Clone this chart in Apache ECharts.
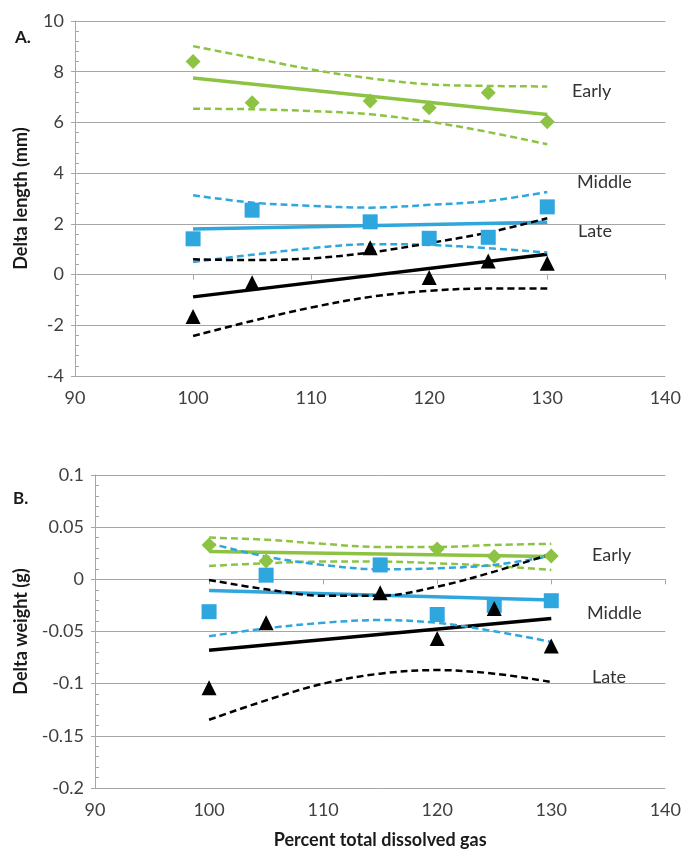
<!DOCTYPE html>
<html>
<head>
<meta charset="utf-8">
<script src="https://cdn.jsdelivr.net/npm/echarts@6/dist/echarts.min.js"></script>
<style>
html,body{margin:0;padding:0;background:#fff;}
#chart{width:684px;height:852px;}
</style>
</head>
<body>
<div id="chart"></div>
<script>
// ---------- DATA ----------
const xTicks = [90, 100, 110, 120, 130, 140];
const obsX = [100, 105, 115, 120, 125, 130];
const ciX = [100, 105, 110, 115, 120, 125, 130];
const fitX = [100, 130];
const groupNames = ['Early', 'Middle', 'Late'];

// Panel A: Delta length (mm)
const lenEarly = [8.4, 6.78, 6.85, 6.58, 7.17, 6.03];
const lenEarlyFit = [7.75, 6.31];
const lenEarlyUpper = [9.01, 8.55, 8.09, 7.74, 7.5, 7.44, 7.42];
const lenEarlyLower = [6.54, 6.52, 6.45, 6.32, 6.03, 5.62, 5.14];

const lenMiddle = [1.41, 2.54, 2.08, 1.43, 1.47, 2.67];
const lenMiddleFit = [1.8, 2.06];
const lenMiddleUpper = [3.13, 2.84, 2.71, 2.64, 2.75, 2.9, 3.26];
const lenMiddleLower = [0.5, 0.78, 1.04, 1.2, 1.17, 1.04, 0.87];

const lenLate = [-1.65, -0.32, 1.06, -0.12, 0.54, 0.45];
const lenLateFit = [-0.88, 0.8];
const lenLateUpper = [0.6, 0.57, 0.64, 0.87, 1.24, 1.66, 2.22];
const lenLateLower = [-2.42, -1.83, -1.3, -0.88, -0.64, -0.55, -0.55];

// Panel B: Delta weight (g)
const wtEarly = [0.033, 0.0176, 0.014, 0.029, 0.0218, 0.0224];
const wtEarlyFit = [0.0266, 0.0218];
const wtEarlyUpper = [0.040, 0.038, 0.034, 0.031, 0.031, 0.033, 0.034];
const wtEarlyLower = [0.0128, 0.0154, 0.017, 0.017, 0.0154, 0.0128, 0.009];

const wtMiddle = [-0.031, 0.004, 0.0138, -0.0337, -0.025, -0.0205];
const wtMiddleFit = [-0.0106, -0.0199];
const wtMiddleUpper = [0.0346, 0.0218, 0.0138, 0.0096, 0.0106, 0.0138, 0.0224];
const wtMiddleLower = [-0.0545, -0.047, -0.0417, -0.039, -0.0417, -0.0497, -0.06];

const wtLate = [-0.104, -0.0417, -0.0128, -0.0567, -0.0279, -0.064];
const wtLateFit = [-0.068, -0.0375];
const wtLateUpper = [-0.0006, -0.0096, -0.0157, -0.0157, -0.007, 0.0074, 0.0244];
const wtLateLower = [-0.1346, -0.116, -0.1, -0.0904, -0.087, -0.0904, -0.0984];

// ---------- STYLE ----------
const GREEN = '#8dc343';
const BLUE = '#2ea6de';
const BLACK = '#000000';
const FONT = 'Lato, "Open Sans", sans-serif';
const GRID_COLOR = '#a6a6a6';

function zip(xs, ys) { return xs.map((x, i) => [x, ys[i]]); }

function scatter(data, sym, color, idx) {
  return {
    type: 'scatter', xAxisIndex: idx, yAxisIndex: idx * 2,
    data: zip(obsX, data), symbol: sym, symbolSize: 15,
    itemStyle: { color: color, opacity: 1 }, z: 5, silent: true
  };
}
function fit(data, color, idx) {
  return {
    type: 'line', xAxisIndex: idx, yAxisIndex: idx * 2,
    data: zip(fitX, data), symbol: 'none',
    lineStyle: { color: color, width: 3.5 }, z: 3, silent: true
  };
}
function ci(data, color, idx) {
  return {
    type: 'line', xAxisIndex: idx, yAxisIndex: idx * 2,
    data: zip(ciX, data), symbol: 'none', smooth: 0.35,
    lineStyle: { color: color, width: 2.5, type: [7, 4] }, z: 4, silent: true
  };
}

function xAxis(idx, name) {
  return {
    type: 'value', gridIndex: idx, min: 90, max: 140, interval: 10,
    axisLine: { show: true, lineStyle: { color: GRID_COLOR, width: 1 } },
    axisTick: { show: true, length: 5, lineStyle: { color: GRID_COLOR } },
    axisLabel: { color: '#404040', fontFamily: FONT, fontSize: 18, margin: 13 },
    splitLine: { show: false },
    name: name, nameLocation: 'middle', nameGap: 43,
    nameTextStyle: { color: '#1a1a1a', fontFamily: FONT, fontSize: 18, fontWeight: 'bold' }
  };
}
function yAxes(idx, min, max, interval, name, gap) {
  return [{
    type: 'value', gridIndex: idx, min: min, max: max, interval: interval,
    axisLine: { show: true, lineStyle: { color: GRID_COLOR, width: 1 } },
    axisTick: { show: true, length: 4, lineStyle: { color: GRID_COLOR } },
    axisLabel: { color: '#404040', fontFamily: FONT, fontSize: 18, margin: 11 },
    splitLine: { show: true, lineStyle: { color: GRID_COLOR, width: 1 } },
    name: name, nameLocation: 'middle', nameGap: gap, nameRotate: 90,
    nameTextStyle: { color: '#1a1a1a', fontFamily: FONT, fontSize: 18, fontWeight: 'bold' }
  }, {
    type: 'value', gridIndex: idx, min: min, max: max, interval: interval, position: 'left',
    axisLine: { show: false }, axisLabel: { show: false }, splitLine: { show: false },
    axisTick: { show: false, inside: true },
    minorTick: { show: true, splitNumber: 5, length: 4, lineStyle: { color: GRID_COLOR } }
  }];
}

const series = [
  scatter(lenEarly, 'diamond', GREEN, 0), scatter(lenMiddle, 'rect', BLUE, 0), scatter(lenLate, 'triangle', BLACK, 0),
  fit(lenEarlyFit, GREEN, 0), ci(lenEarlyUpper, GREEN, 0), ci(lenEarlyLower, GREEN, 0),
  fit(lenMiddleFit, BLUE, 0), ci(lenMiddleUpper, BLUE, 0), ci(lenMiddleLower, BLUE, 0),
  fit(lenLateFit, BLACK, 0), ci(lenLateUpper, BLACK, 0), ci(lenLateLower, BLACK, 0),
  scatter(wtEarly, 'diamond', GREEN, 1), scatter(wtMiddle, 'rect', BLUE, 1), scatter(wtLate, 'triangle', BLACK, 1),
  fit(wtEarlyFit, GREEN, 1), ci(wtEarlyUpper, GREEN, 1), ci(wtEarlyLower, GREEN, 1),
  fit(wtMiddleFit, BLUE, 1), ci(wtMiddleUpper, BLUE, 1), ci(wtMiddleLower, BLUE, 1),
  fit(wtLateFit, BLACK, 1), ci(wtLateUpper, BLACK, 1), ci(wtLateLower, BLACK, 1)
];

function label(text, x, y) {
  return { type: 'text', left: x, top: y,
    style: { text: text, fill: '#333', font: '18px ' + FONT } };
}

const chart = echarts.init(document.getElementById('chart'), null, { renderer: 'canvas' });
chart.setOption({
  backgroundColor: '#fff',
  animation: false,
  grid: [
    { left: 75, right: 17, top: 21, height: 355 },
    { left: 95, right: 17, top: 475, height: 313 }
  ],
  xAxis: [xAxis(0, ''), xAxis(1, 'Percent total dissolved gas')],
  yAxis: [
    ...yAxes(0, -4, 10, 2, 'Delta length (mm)', 45),
    ...yAxes(1, -0.2, 0.1, 0.05, 'Delta weight (g)', 65)
  ],
  series: series,
  graphic: [
    { type: 'text', left: 15, top: 29, style: { text: 'A.', fill: '#1a1a1a', font: 'bold 17px ' + FONT } },
    { type: 'text', left: 13, top: 490, style: { text: 'B.', fill: '#1a1a1a', font: 'bold 17px ' + FONT } },
    label(groupNames[0], 572, 82), label(groupNames[1], 577, 173), label(groupNames[2], 578, 222),
    label(groupNames[0], 592, 546), label(groupNames[1], 587, 604), label(groupNames[2], 592, 668)
  ]
});
</script>
</body>
</html>
